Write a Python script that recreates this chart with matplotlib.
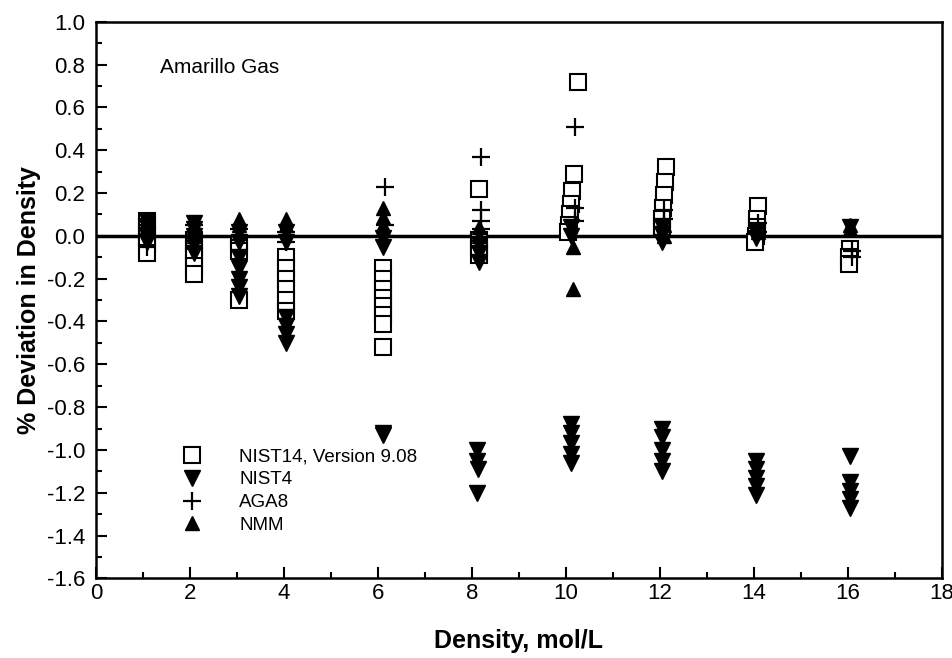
import matplotlib.pyplot as plt
from matplotlib.ticker import MultipleLocator

# NIST14, Version 9.08 (open squares)
nist14_x = [1.08] * 5 + [2.08] * 5 + [3.05] * 3 + [4.05] * 6 + [6.1] * 8 + [8.15] * 4 \
    + [10.25, 10.17, 10.14, 10.1, 10.08, 10.06, 10.05] + [12.13, 12.11, 12.09, 12.07, 12.05, 12.04] \
    + [14.1, 14.08, 14.06, 14.04, 14.03] + [16.05, 16.03, 16.02]
nist14_y = [0.07, 0.04, 0.0, -0.04, -0.08,
            -0.02, -0.06, -0.10, -0.14, -0.18,
            -0.04, -0.07, -0.30,
            -0.10, -0.15, -0.20, -0.25, -0.30, -0.35,
            -0.15, -0.20, -0.25, -0.29, -0.33, -0.37, -0.41, -0.52,
            0.22, -0.02, -0.06, -0.09,
            0.72, 0.29, 0.21, 0.15, 0.10, 0.05, 0.02,
            0.32, 0.25, 0.19, 0.13, 0.08, 0.04,
            0.14, 0.08, 0.04, 0.0, -0.03,
            -0.06, -0.10, -0.13]

# NIST4 (filled down triangles)
nist4_x = [1.08] * 4 + [2.08] * 5 + [3.05] * 7 + [4.05] * 6 + [6.1] * 4 + [8.15] * 3 \
    + [8.1, 8.1, 8.12, 8.1] + [10.1] * 7 + [12.05] * 8 + [14.05] * 7 + [16.05] * 6
nist4_y = [0.07, 0.04, 0.0, -0.03,
           0.06, 0.03, 0.0, -0.04, -0.08,
           0.02, -0.03, -0.10, -0.15, -0.20, -0.24, -0.28,
           0.02, -0.03, -0.38, -0.42, -0.46, -0.50,
           -0.01, -0.05, -0.92, -0.93,
           -0.04, -0.08, -0.12,
           -1.00, -1.05, -1.09, -1.20,
           0.04, 0.0, -0.88, -0.92, -0.97, -1.02, -1.06,
           0.04, 0.01, -0.03, -0.90, -0.94, -1.00, -1.05, -1.10,
           0.02, -0.01, -1.05, -1.09, -1.13, -1.17, -1.21,
           0.04, -1.03, -1.15, -1.19, -1.23, -1.27]

# AGA8 (plus)
aga8_x = [1.08] * 3 + [2.08] * 3 + [3.05] * 2 + [4.05] * 2 + [6.15] * 3 + [8.2] * 4 \
    + [10.2] * 3 + [12.1] * 2 + [14.1] * 2 + [16.1] * 2
aga8_y = [0.05, 0.0, -0.05,
          0.05, 0.0, -0.05,
          0.03, -0.02,
          0.02, -0.03,
          0.23, 0.05, 0.0,
          0.37, 0.12, 0.07, 0.03,
          0.51, 0.13, 0.07,
          0.12, 0.08,
          0.06, 0.02,
          -0.07, -0.10]

# NMM (filled up triangles)
nmm_x = [1.08] * 2 + [2.08] * 2 + [3.05] * 2 + [4.05] * 2 + [6.1] * 3 + [8.15] * 2 \
    + [10.15] * 2 + [12.1] * 2 + [14.1] + [16.05] * 2
nmm_y = [0.07, 0.04,
         0.04, 0.0,
         0.08, 0.05,
         0.08, 0.05,
         0.13, 0.09, 0.05,
         0.04, 0.0,
         -0.25, -0.05,
         0.05, 0.0,
         0.02,
         0.05, 0.03]

plt.rcParams['font.family'] = ['Liberation Sans', 'DejaVu Sans']
fig = plt.figure(figsize=(9.53, 6.58), dpi=100)
ax = fig.add_axes([0.101, 0.121, 0.887, 0.846])

ax.plot(nist14_x, nist14_y, ls='none', marker='s', ms=12, mfc='white', mec='black', mew=1.5,
        label='NIST14, Version 9.08')
ax.plot(nist4_x, nist4_y, ls='none', marker='v', ms=11, color='black', label='NIST4')
ax.plot(aga8_x, aga8_y, ls='none', marker='+', ms=13, mew=1.6, color='black', label='AGA8')
ax.plot(nmm_x, nmm_y, ls='none', marker='^', ms=10, color='black', label='NMM')
ax.axhline(0, color='black', lw=2.5, zorder=0)

ax.set_xlim(0, 18)
ax.set_ylim(-1.6, 1.0)
ax.xaxis.set_major_locator(MultipleLocator(2))
ax.xaxis.set_minor_locator(MultipleLocator(1))
ax.yaxis.set_major_locator(MultipleLocator(0.2))
ax.yaxis.set_minor_locator(MultipleLocator(0.1))
ax.tick_params(which='both', direction='in', top=False, right=False, labelsize=16, width=1.5)
ax.tick_params(which='major', length=8)
ax.tick_params(which='minor', length=4)
ax.tick_params(axis='y', pad=8)
ax.yaxis.set_major_formatter(plt.FuncFormatter(lambda v, p: f'{v:.1f}'))
for s in ax.spines.values():
    s.set_linewidth(1.8)

ax.set_xlabel('Density, mol/L', fontsize=18, fontweight='bold', labelpad=18)
ax.set_ylabel('% Deviation in Density', fontsize=18, fontweight='bold', labelpad=4)
ax.text(1.35, 0.76, 'Amarillo Gas', fontsize=15)

ax.legend(loc='upper left', bbox_to_anchor=(0.085, 0.25), frameon=False, fontsize=13.5,
          borderpad=0, handlelength=1.5, handletextpad=1.8, labelspacing=0.3, markerscale=1.0)

fig.savefig('out.png')
